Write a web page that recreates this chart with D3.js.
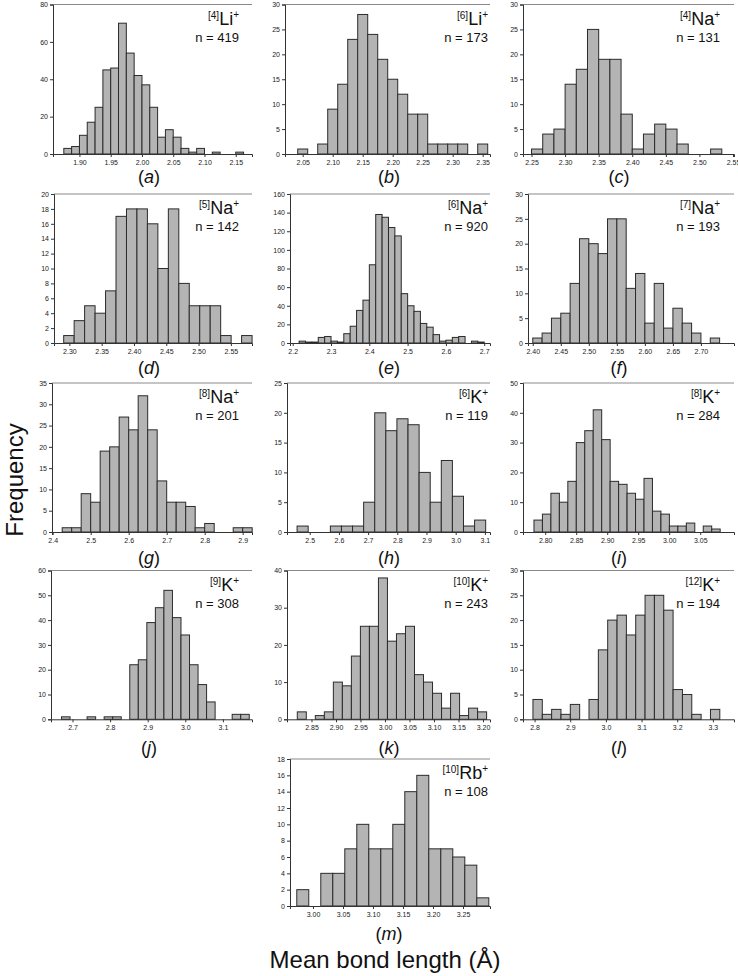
<!DOCTYPE html>
<html><head><meta charset="utf-8">
<script src="https://cdn.jsdelivr.net/npm/d3@7"></script>
<style>body{margin:0;background:#fff} svg{display:block;font-family:"Liberation Sans",Arial,sans-serif}</style>
</head><body><svg id="c" width="738" height="976"></svg>
<script>
// ---------- data ----------
const panelLetters = ['a','b','c','d','e','f','g','h','i','j','k','l','m'];
const ionSymbols   = ['Li','Li','Na','Na','Na','Na','Na','K','K','K','K','K','Rb'];
const coordNumbers = [4,6,4,5,6,7,8,6,8,9,10,12,10];
const sampleSizes  = [419,173,131,142,920,193,201,119,284,308,243,194,108];

const binStarts = [1.875,2.0417,2.25,2.2912,2.2167,2.40,2.425,2.4567,2.7819,2.6707,2.821,2.7954,2.973];
const binWidths = [0.0125,0.016667,0.016667,0.0162,0.016667,0.016667,0.025,0.038,0.01365,0.0227,0.0184,0.0262,0.02];

const counts_a = [3,4,10,17,25,45,46,70,54,42,37,25,9,13,9,3,1,3,0,1,0,0,1];
const counts_b = [1,0,2,9,14,23,28,24,19,15,12,8,8,2,2,2,2,0,2];
const counts_c = [1,4,5,14,17,25,19,19,8,1,4,6,5,2,0,0,1];
const counts_d = [1,3,5,4,7,17,18,18,16,10,18,8,5,5,5,1,0,1];
const counts_e = [2,1,1,6,7,2,1,10,18,35,46,84,138,135,124,115,53,40,34,21,17,9,2,3,6,7,0,2,1];
const counts_f = [1,2,5,6,12,21,20,18,25,25,11,14,4,12,3,7,4,2,0,1];
const counts_g = [1,1,9,7,19,20,27,24,32,24,12,7,7,6,1,2,0,0,1,1];
const counts_h = [1,0,0,1,1,1,5,20,17,19,18,10,5,12,6,1,2];
const counts_i = [4,6,13,10,17,30,34,41,31,17,16,13,11,18,7,6,2,2,3,0,2,1];
const counts_j = [1,0,0,1,0,1,1,0,22,24,39,45,52,41,34,22,14,7,0,0,2,2];
const counts_k = [2,0,1,2,10,9,17,25,25,38,21,23,25,12,10,7,3,7,1,3,2];
const counts_l = [4,1,2,1,3,0,4,14,20,21,17,21,25,25,22,6,5,1,0,2];
const counts_m = [2,0,4,4,7,10,7,7,10,14,16,7,7,6,5,1];
const allCounts = [counts_a,counts_b,counts_c,counts_d,counts_e,counts_f,counts_g,counts_h,counts_i,counts_j,counts_k,counts_l,counts_m];

const xMin = [1.8577,2.0205,2.2373,2.2762,2.1929,2.3915,2.3982,2.4222,2.7642,2.6428,2.80,2.7675,2.9617];
const xMax = [2.176,2.3622,2.5515,2.5827,2.7151,2.759,2.9245,3.1175,3.1045,3.1774,3.2143,3.3592,3.295];
const yMax  = [80,30,30,20,160,30,35,25,50,60,40,30,18];
const yStep = [20,5,5,2,20,5,5,5,10,10,10,5,2];

const xTicks_a = [1.90,1.95,2.00,2.05,2.10,2.15];
const xTicks_b = [2.05,2.10,2.15,2.20,2.25,2.30,2.35];
const xTicks_c = [2.25,2.30,2.35,2.40,2.45,2.50,2.55];
const xTicks_d = [2.30,2.35,2.40,2.45,2.50,2.55];
const xTicks_e = [2.2,2.3,2.4,2.5,2.6,2.7];
const xTicks_f = [2.40,2.45,2.50,2.55,2.60,2.65,2.70];
const xTicks_g = [2.4,2.5,2.6,2.7,2.8,2.9];
const xTicks_h = [2.5,2.6,2.7,2.8,2.9,3.0,3.1];
const xTicks_i = [2.80,2.85,2.90,2.95,3.00,3.05];
const xTicks_j = [2.7,2.8,2.9,3.0,3.1];
const xTicks_k = [2.85,2.90,2.95,3.00,3.05,3.10,3.15,3.20];
const xTicks_l = [2.8,2.9,3.0,3.1,3.2,3.3];
const xTicks_m = [3.00,3.05,3.10,3.15,3.20,3.25];
const allXTicks = [xTicks_a,xTicks_b,xTicks_c,xTicks_d,xTicks_e,xTicks_f,xTicks_g,xTicks_h,xTicks_i,xTicks_j,xTicks_k,xTicks_l,xTicks_m];
const tickDecimals = [2,2,2,2,1,2,1,1,2,1,2,1,2];

const yAxisTitle = 'Frequency';
const xAxisTitle = 'Mean bond length (Å)';

// ---------- layout ----------
const plotLeft  = [53,285,523,54,290,528,52,287,523,51,287,523,290];
const colRight  = [252,490,734];
const labelRight = [239,488,720];
const captionX = [149,389,619];
const rowTop    = [4.5,194,383,570.5,759];
const rowBase   = [154,343,532,719.3,906];
const captionY  = [183,374,564,754,940];

const svg = d3.select('#c');

panelLetters.forEach((letter, i) => {
  const row = Math.floor(i / 3);
  const col = i === 12 ? 1 : i % 3;
  const x = d3.scaleLinear().domain([xMin[i], xMax[i]]).range([plotLeft[i], colRight[col]]);
  const y = d3.scaleLinear().domain([0, yMax[i]]).range([rowBase[row], rowTop[row]]);
  const g = svg.append('g');

  const counts = allCounts[i];
  const bins = counts.map((c, k) => ({x0: binStarts[i] + k * binWidths[i], x1: binStarts[i] + (k + 1) * binWidths[i], c}));
  g.selectAll('rect').data(bins.filter(b => b.c > 0)).join('rect')
    .attr('x', b => x(b.x0)).attr('width', b => x(b.x1) - x(b.x0))
    .attr('y', b => y(b.c)).attr('height', b => y(0) - y(b.c))
    .attr('fill', '#b4b4b4').attr('stroke', '#2b2b2b').attr('stroke-width', 1);

  // top frame line
  g.append('line').attr('x1', plotLeft[i]).attr('x2', colRight[col])
    .attr('y1', rowTop[row]).attr('y2', rowTop[row]).attr('stroke', '#8a8a8a').attr('stroke-width', 1);

  const yTicks = d3.range(0, yMax[i] + 1e-9, yStep[i]);
  const ya = g.append('g').attr('transform', `translate(${plotLeft[i]},0)`)
    .call(d3.axisLeft(y).tickValues(yTicks).tickSize(3).tickPadding(2).tickFormat(d3.format('d')));
  const xa = g.append('g').attr('transform', `translate(0,${rowBase[row]})`)
    .call(d3.axisBottom(x).tickValues(allXTicks[i]).tickSize(3).tickPadding(3).tickFormat(d3.format('.' + tickDecimals[i] + 'f')));
  [ya, xa].forEach(a => {
    a.select('.domain').attr('stroke', '#333').attr('stroke-width', 1);
    a.selectAll('.tick line').attr('stroke', '#333');
    a.selectAll('.tick text').attr('font-size', 7).attr('fill', '#222').attr('font-family', '"Liberation Sans",Arial,sans-serif');
  });

  // ion label
  const t = g.append('text').attr('x', labelRight[col]).attr('y', rowTop[row] + 20)
    .attr('text-anchor', 'end').attr('fill', '#111');
  t.append('tspan').attr('font-size', 10).attr('dy', -6).text('[' + coordNumbers[i] + ']');
  t.append('tspan').attr('font-size', 18).attr('dy', 6).text(ionSymbols[i]);
  t.append('tspan').attr('font-size', 10).attr('dy', -7).text('+');
  g.append('text').attr('x', labelRight[col]).attr('y', rowTop[row] + 37)
    .attr('text-anchor', 'end').attr('font-size', 13).attr('fill', '#111').text('n = ' + sampleSizes[i]);

  // caption
  const cap = g.append('text').attr('x', captionX[col]).attr('y', captionY[row])
    .attr('text-anchor', 'middle').attr('font-size', 18).attr('fill', '#111');
  cap.append('tspan').text('(');
  cap.append('tspan').attr('font-style', 'italic').text(letter);
  cap.append('tspan').text(')');
});

svg.append('text').attr('transform', 'translate(23,480) rotate(-90)').attr('text-anchor', 'middle')
  .attr('font-size', 24).attr('fill', '#111').text(yAxisTitle);
svg.append('text').attr('x', 385).attr('y', 968).attr('text-anchor', 'middle')
  .attr('font-size', 24).attr('fill', '#111').text(xAxisTitle);
</script></body></html>
